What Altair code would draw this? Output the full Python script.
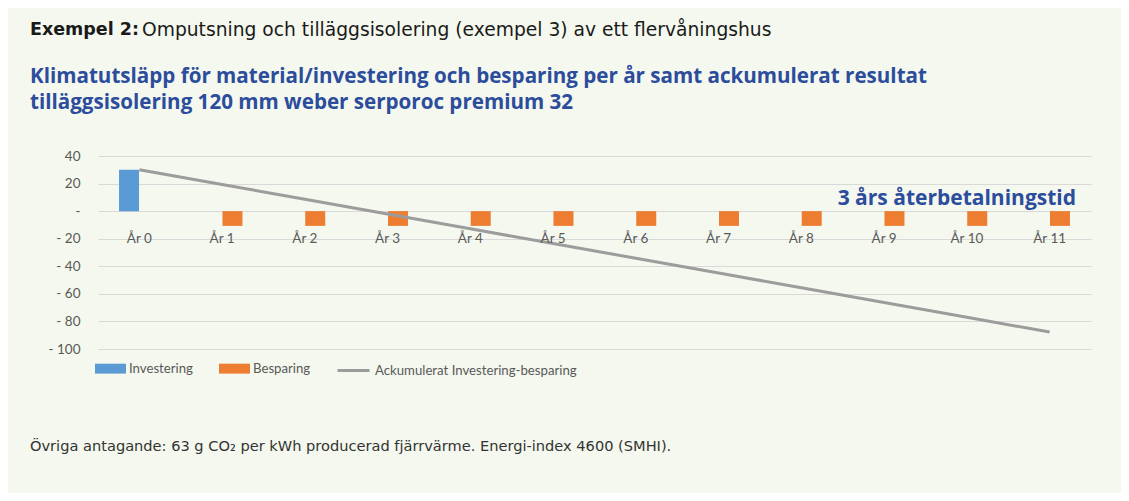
import altair as alt
import pandas as pd

# ---------------- data ----------------
years = ["År 0", "År 1", "År 2", "År 3", "År 4", "År 5", "År 6",
         "År 7", "År 8", "År 9", "År 10", "År 11"]
investering = [30, None, None, None, None, None, None, None, None, None, None, None]
besparing = [None, -10.7, -10.7, -10.7, -10.7, -10.7, -10.7, -10.7, -10.7, -10.7, -10.7, -10.7]
ackumulerat = [30, 19.3, 8.6, -2.1, -12.8, -23.5, -34.2, -44.9, -55.6, -66.3, -77.0, -87.7]
y_ticks = [40, 20, 0, -20, -40, -60, -80, -100]

series_names = ["Investering", "Besparing"]
line_name = "Ackumulerat Investering-besparing"

header_bold = "Exempel 2:"
header_text = "Omputsning och tilläggsisolering (exempel 3) av ett flervåningshus"
title_line1 = "Klimatutsläpp för material/investering och besparing per år samt ackumulerat resultat"
title_line2 = "tilläggsisolering 120 mm weber serporoc premium 32"
annotation = "3 års återbetalningstid"
footer = "Övriga antagande: 63 g CO₂ per kWh producerad fjärrvärme. Energi-index 4600 (SMHI)."

# ---------------- styles ----------------
BG = "#F4F8EE"
BLUE_TXT = "#2C4C9C"
BAR_COLORS = ["#5B9BD5", "#ED7D31"]
LINE_COLOR = "#9C9C9C"
AX_COLOR = "#595959"
AX_FONT = "Lato"
HEAD_FONT = "Open Sans"
WIDE_FONT = "DejaVu Sans"

rows = []
for yr, v in zip(years, investering):
    if v is not None:
        rows.append({"year": yr, "series": "Investering", "value": v})
for yr, v in zip(years, besparing):
    if v is not None:
        rows.append({"year": yr, "series": "Besparing", "value": v})
bar_df = pd.DataFrame(rows)
line_df = pd.DataFrame({"year": years, "value": ackumulerat, "name": [line_name] * len(years)})
lab_df = pd.DataFrame({"year": years})

x_scale = alt.Scale(domain=years, paddingInner=0, paddingOuter=0)
y_scale = alt.Scale(domain=[-100, 40], nice=False, zero=False)

label_expr = ("datum.value == 0 ? '-\u00a0\u00a0\u00a0' : (datum.value < 0 ? '- ' + "
              "format(-datum.value, 'd') : format(datum.value, 'd'))")


def y_axis():
    return alt.Axis(values=y_ticks, title=None, domain=False, ticks=False, tickSize=0,
                    labelPadding=18, labelColor=AX_COLOR, labelFont=AX_FONT,
                    labelFontSize=13.5, grid=True, gridColor="#D9D9D9", gridWidth=1,
                    labelExpr=label_expr)


bars = alt.Chart(bar_df).mark_bar(width=20).encode(
    x=alt.X("year:N", scale=x_scale, axis=None),
    xOffset=alt.XOffset("series:N", scale=alt.Scale(domain=series_names, paddingInner=0,
                                                       paddingOuter=1)),
    y=alt.Y("value:Q", scale=y_scale, axis=y_axis()),
    fill=alt.Fill("series:N", scale=alt.Scale(domain=series_names, range=BAR_COLORS),
                  legend=alt.Legend(orient="none", legendX=-3, legendY=197,
                                    direction="horizontal", title=None,
                                    symbolType="M-1,-0.32H1V0.32H-1Z", symbolSize=961,
                                    symbolStrokeWidth=0, symbolOpacity=1,
                                    labelFont=AX_FONT, labelFontSize=13.2,
                                    labelColor=AX_COLOR, labelOffset=3, labelLimit=300,
                                    columnPadding=26, padding=0)),
)

line = alt.Chart(line_df).mark_line(strokeWidth=3).encode(
    x=alt.X("year:N", scale=x_scale, axis=None),
    y=alt.Y("value:Q", scale=y_scale, axis=y_axis()),
    stroke=alt.Stroke("name:N", scale=alt.Scale(domain=[line_name], range=[LINE_COLOR]),
                      legend=alt.Legend(orient="none", legendX=238, legendY=197,
                                        direction="horizontal", title=None,
                                        symbolType="stroke", symbolSize=1024,
                                        symbolStrokeWidth=3, labelLimit=400,
                                        labelFont=AX_FONT, labelFontSize=13.2,
                                        labelColor=AX_COLOR, labelOffset=4, padding=0)),
)

xlabels = alt.Chart(lab_df).mark_text(font=AX_FONT, fontSize=13.5, color=AX_COLOR,
                                      baseline="middle", dy=28).encode(
    x=alt.X("year:N", scale=x_scale, axis=None),
    y=alt.Y(datum=0, scale=y_scale, axis=y_axis()),
    text="year:N",
)


def txt(s, x, y, size, color, weight="normal", font=HEAD_FONT, align="left"):
    return alt.Chart(pd.DataFrame({"t": [s]})).mark_text(
        font=font, fontSize=size, color=color, fontWeight=weight, align=align,
        baseline="middle").encode(x=alt.value(x), y=alt.value(y), text="t:N")


ann = alt.Chart(pd.DataFrame({"t": [annotation]})).mark_text(
    font=HEAD_FONT, fontSize=21, color=BLUE_TXT, fontWeight="bold", align="right",
    baseline="middle").encode(x=alt.value(978),
                              y=alt.Y(datum=9, scale=y_scale, axis=y_axis()),
                              text="t:N")

chart = alt.layer(
    bars, line, xlabels, ann,
    txt(header_bold, -68, -126, 17.5, "#1A1A1A", "bold", font=WIDE_FONT),
    txt(header_text, 44, -126, 18.7, "#1A1A1A", font=WIDE_FONT),
    txt(title_line1, -68, -79, 20.6, BLUE_TXT, "bold"),
    txt(title_line2, -68, -53, 20.6, BLUE_TXT, "bold"),
    txt(footer, -68, 291, 14.6, "#333333", font=WIDE_FONT),
).resolve_scale(fill="independent", stroke="independent").properties(
    width=993, height=193,
    padding={"left": 90, "top": 148, "right": 30, "bottom": 144},
    autosize="none",
    background=BG,
).configure_view(stroke=None)

chart.save("out.html", embed_options={"renderer": "svg", "actions": False})
